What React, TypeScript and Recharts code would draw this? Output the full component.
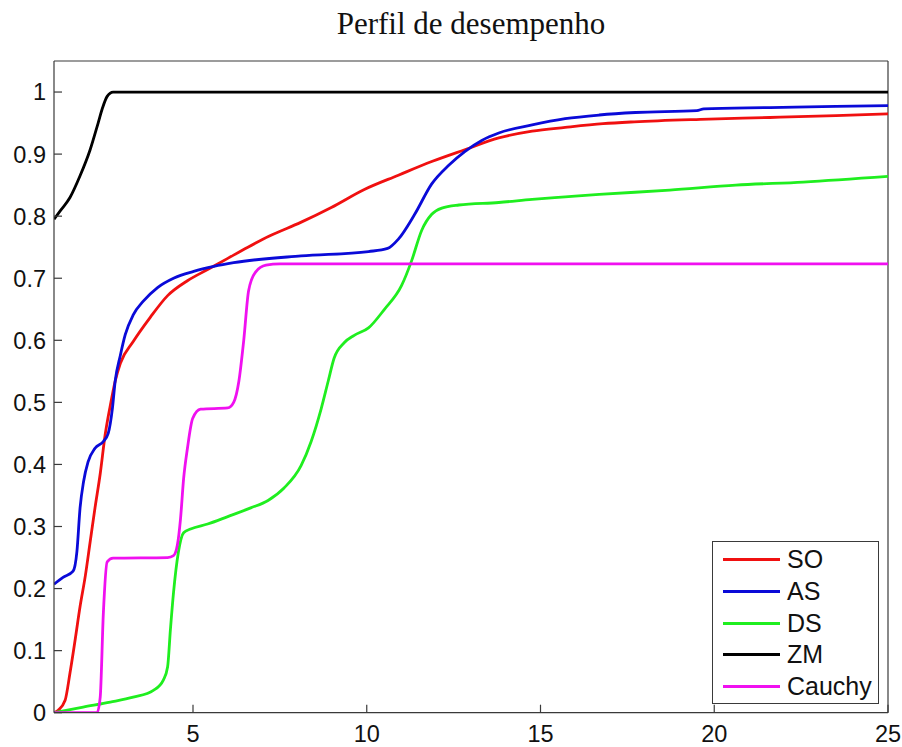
import React from 'react';
import { LineChart, Line, XAxis, YAxis, ReferenceLine, Legend } from 'recharts';

type Pt = { x: number; y: number };
const toPoints = (arr: number[][]): Pt[] => arr.map(([x, y]) => ({ x, y }));

// Performance profile curves: [tau, fraction of problems]
const soValues = [
  [1, 0], [1.12, 0.004], [1.32, 0.02], [1.46, 0.064], [1.61, 0.118], [1.75, 0.171], [1.9, 0.22],
  [2.04, 0.275], [2.18, 0.33], [2.33, 0.385], [2.47, 0.447], [2.62, 0.495], [2.76, 0.534],
  [2.91, 0.563], [3.28, 0.598], [3.77, 0.637], [4.27, 0.672], [4.84, 0.696], [5.42, 0.714],
  [6.0, 0.732], [6.58, 0.75], [7.2, 0.768], [8.1, 0.79], [8.98, 0.814], [9.93, 0.843],
  [10.91, 0.866], [11.87, 0.888], [12.82, 0.907], [13.8, 0.926], [14.76, 0.937], [15.71, 0.943],
  [16.8, 0.949], [17.7, 0.952], [19.6, 0.956], [21.6, 0.959], [23.5, 0.962], [25, 0.965],
];

const asValues = [
  [1, 0.207], [1.26, 0.218], [1.55, 0.228], [1.66, 0.26], [1.75, 0.33], [1.85, 0.372],
  [1.98, 0.404], [2.18, 0.426], [2.42, 0.437], [2.56, 0.45], [2.68, 0.49], [2.76, 0.534],
  [2.91, 0.576], [3.05, 0.609], [3.28, 0.641], [3.57, 0.663], [3.98, 0.685], [4.44, 0.7],
  [5.02, 0.711], [5.6, 0.719], [6.17, 0.725], [8.11, 0.736], [10.05, 0.743], [10.6, 0.748],
  [10.91, 0.763], [11.38, 0.803], [11.87, 0.852], [12.36, 0.882], [12.82, 0.904], [13.31, 0.922],
  [13.8, 0.934], [14.76, 0.947], [15.71, 0.957], [16.69, 0.963], [17.73, 0.967], [19.5, 0.97],
  [19.7, 0.973], [21.6, 0.975], [23.5, 0.977], [25, 0.978],
];

const dsValues = [
  [1, 0], [1.84, 0.009], [2.62, 0.017], [3.28, 0.025], [3.86, 0.036], [4.15, 0.053], [4.27, 0.074],
  [4.35, 0.134], [4.44, 0.194], [4.58, 0.259], [4.73, 0.29], [4.93, 0.296], [5.42, 0.304],
  [6.0, 0.316], [6.66, 0.33], [7.16, 0.342], [7.62, 0.362], [8.11, 0.398], [8.4, 0.437],
  [8.69, 0.49], [8.89, 0.534], [9.06, 0.571], [9.35, 0.596], [9.64, 0.608], [10.05, 0.62],
  [10.51, 0.65], [11.0, 0.688], [11.29, 0.728], [11.58, 0.777], [11.87, 0.803], [12.16, 0.813],
  [12.65, 0.818], [13.8, 0.822], [14.76, 0.827], [15.71, 0.831], [16.69, 0.835], [18.72, 0.842],
  [20.62, 0.85], [22.56, 0.855], [25, 0.864],
];

const zmValues = [
  [1, 0.795], [1.2, 0.81], [1.46, 0.83], [1.75, 0.865], [2.04, 0.907], [2.27, 0.95],
  [2.4, 0.975], [2.53, 0.993], [2.7, 1.0], [25, 1.0],
];

const cauchyValues = [
  [1, 0], [2.24, 0], [2.33, 0.025], [2.42, 0.16], [2.53, 0.243], [2.7, 0.249], [4.27, 0.25],
  [4.44, 0.253], [4.55, 0.27], [4.64, 0.312], [4.73, 0.377], [4.84, 0.426], [4.99, 0.474],
  [5.22, 0.489], [6.0, 0.491], [6.17, 0.5], [6.32, 0.534], [6.46, 0.6], [6.6, 0.68],
  [6.8, 0.71], [7.1, 0.721], [7.5, 0.723], [25, 0.723],
];

const seriesNames = ['SO', 'AS', 'DS', 'ZM', 'Cauchy'];
const seriesColors = ['#f01010', '#0a0ad8', '#1fee1f', '#000000', '#f010f0'];
const seriesData = [soValues, asValues, dsValues, zmValues, cauchyValues].map(toPoints);

const xTicks = [5, 10, 15, 20, 25];
const yTicks = [0, 0.1, 0.2, 0.3, 0.4, 0.5, 0.6, 0.7, 0.8, 0.9, 1];
const yTickLabels = ['0', '0.1', '0.2', '0.3', '0.4', '0.5', '0.6', '0.7', '0.8', '0.9', '1'];

const AXIS_COLOR = '#3a3a3a';
const LABEL_FONT = '"Liberation Sans", Arial, sans-serif';
const Y_TICK_MARGIN = 8;
const TICK_LEN = 8;

const YTick = (props: any) => {
  const { x, y, payload } = props;
  const axisX = x + Y_TICK_MARGIN;
  const idx = yTicks.indexOf(payload.value);
  return (
    <g>
      <line x1={axisX} x2={axisX + TICK_LEN} y1={y} y2={y} stroke={AXIS_COLOR} strokeWidth={1.2} />
      <text x={x} y={y} dy="0.36em" textAnchor="end" fontFamily={LABEL_FONT} fontSize={23.5} fill="#111">
        {idx >= 0 ? yTickLabels[idx] : String(payload.value)}
      </text>
    </g>
  );
};

const XTick = (props: any) => {
  const { x, y, payload } = props;
  return (
    <g>
      <line x1={x} x2={x} y1={y} y2={y - TICK_LEN} stroke={AXIS_COLOR} strokeWidth={1.2} />
      <text x={x} y={y + 29} textAnchor="middle" fontFamily={LABEL_FONT} fontSize={23.5} fill="#111">
        {String(payload.value)}
      </text>
    </g>
  );
};

const LegendBox = () => (
  <div
    style={{
      boxSizing: 'border-box',
      width: 167,
      height: 163,
      border: `1px solid ${AXIS_COLOR}`,
      background: '#fff',
      paddingTop: 2,
    }}
  >
    {seriesNames.map((name, i) => (
      <div key={name} style={{ display: 'flex', alignItems: 'center', height: 31.7 }}>
        <span
          style={{
            display: 'inline-block',
            marginLeft: 10,
            width: 57,
            height: 3,
            background: seriesColors[i],
          }}
        />
        <span
          style={{
            marginLeft: 7,
            fontFamily: LABEL_FONT,
            fontSize: 25,
            lineHeight: '25px',
            color: '#111',
          }}
        >
          {name}
        </span>
      </div>
    ))}
  </div>
);

export default function App() {
  return (
    <div style={{ position: 'absolute', left: 0, top: 0, width: 902, height: 747, background: '#fff' }}>
      <div
        style={{
          position: 'absolute',
          left: 54,
          width: 834,
          top: 8,
          textAlign: 'center',
          fontFamily: '"Liberation Serif", "Times New Roman", serif',
          fontSize: 31,
          lineHeight: '31px',
          color: '#111',
        }}
      >
        Perfil de desempenho
      </div>
      <LineChart
        width={902}
        height={747}
        margin={{ top: 61, right: 14, bottom: 0.3, left: 0 }}
        style={{ position: 'absolute', left: 0, top: 0 }}
      >
        <XAxis
          type="number"
          dataKey="x"
          domain={[1, 25]}
          ticks={xTicks}
          height={34}
          tickSize={0}
          tickMargin={0}
          tick={<XTick />}
          axisLine={{ stroke: AXIS_COLOR, strokeWidth: 1.2 }}
          allowDataOverflow
        />
        <YAxis
          type="number"
          domain={[0, 1.05]}
          ticks={yTicks}
          width={54}
          tickSize={0}
          tickMargin={Y_TICK_MARGIN}
          tick={<YTick />}
          axisLine={{ stroke: AXIS_COLOR, strokeWidth: 1.2 }}
          allowDataOverflow
        />
        <ReferenceLine y={1.05} stroke={AXIS_COLOR} strokeWidth={1.2} />
        <ReferenceLine x={25} stroke={AXIS_COLOR} strokeWidth={1.2} />
        {seriesData.map((data, i) => (
          <Line
            key={seriesNames[i]}
            name={seriesNames[i]}
            data={data}
            dataKey="y"
            type="monotone"
            stroke={seriesColors[i]}
            strokeWidth={2.8}
            dot={false}
            activeDot={false}
            isAnimationActive={false}
          />
        ))}
        <Legend
          layout="vertical"
          align="center"
          verticalAlign="middle"
          wrapperStyle={{ left: 712, top: 541, width: 167, height: 163 }}
          content={() => <LegendBox />}
        />
      </LineChart>
    </div>
  );
}
